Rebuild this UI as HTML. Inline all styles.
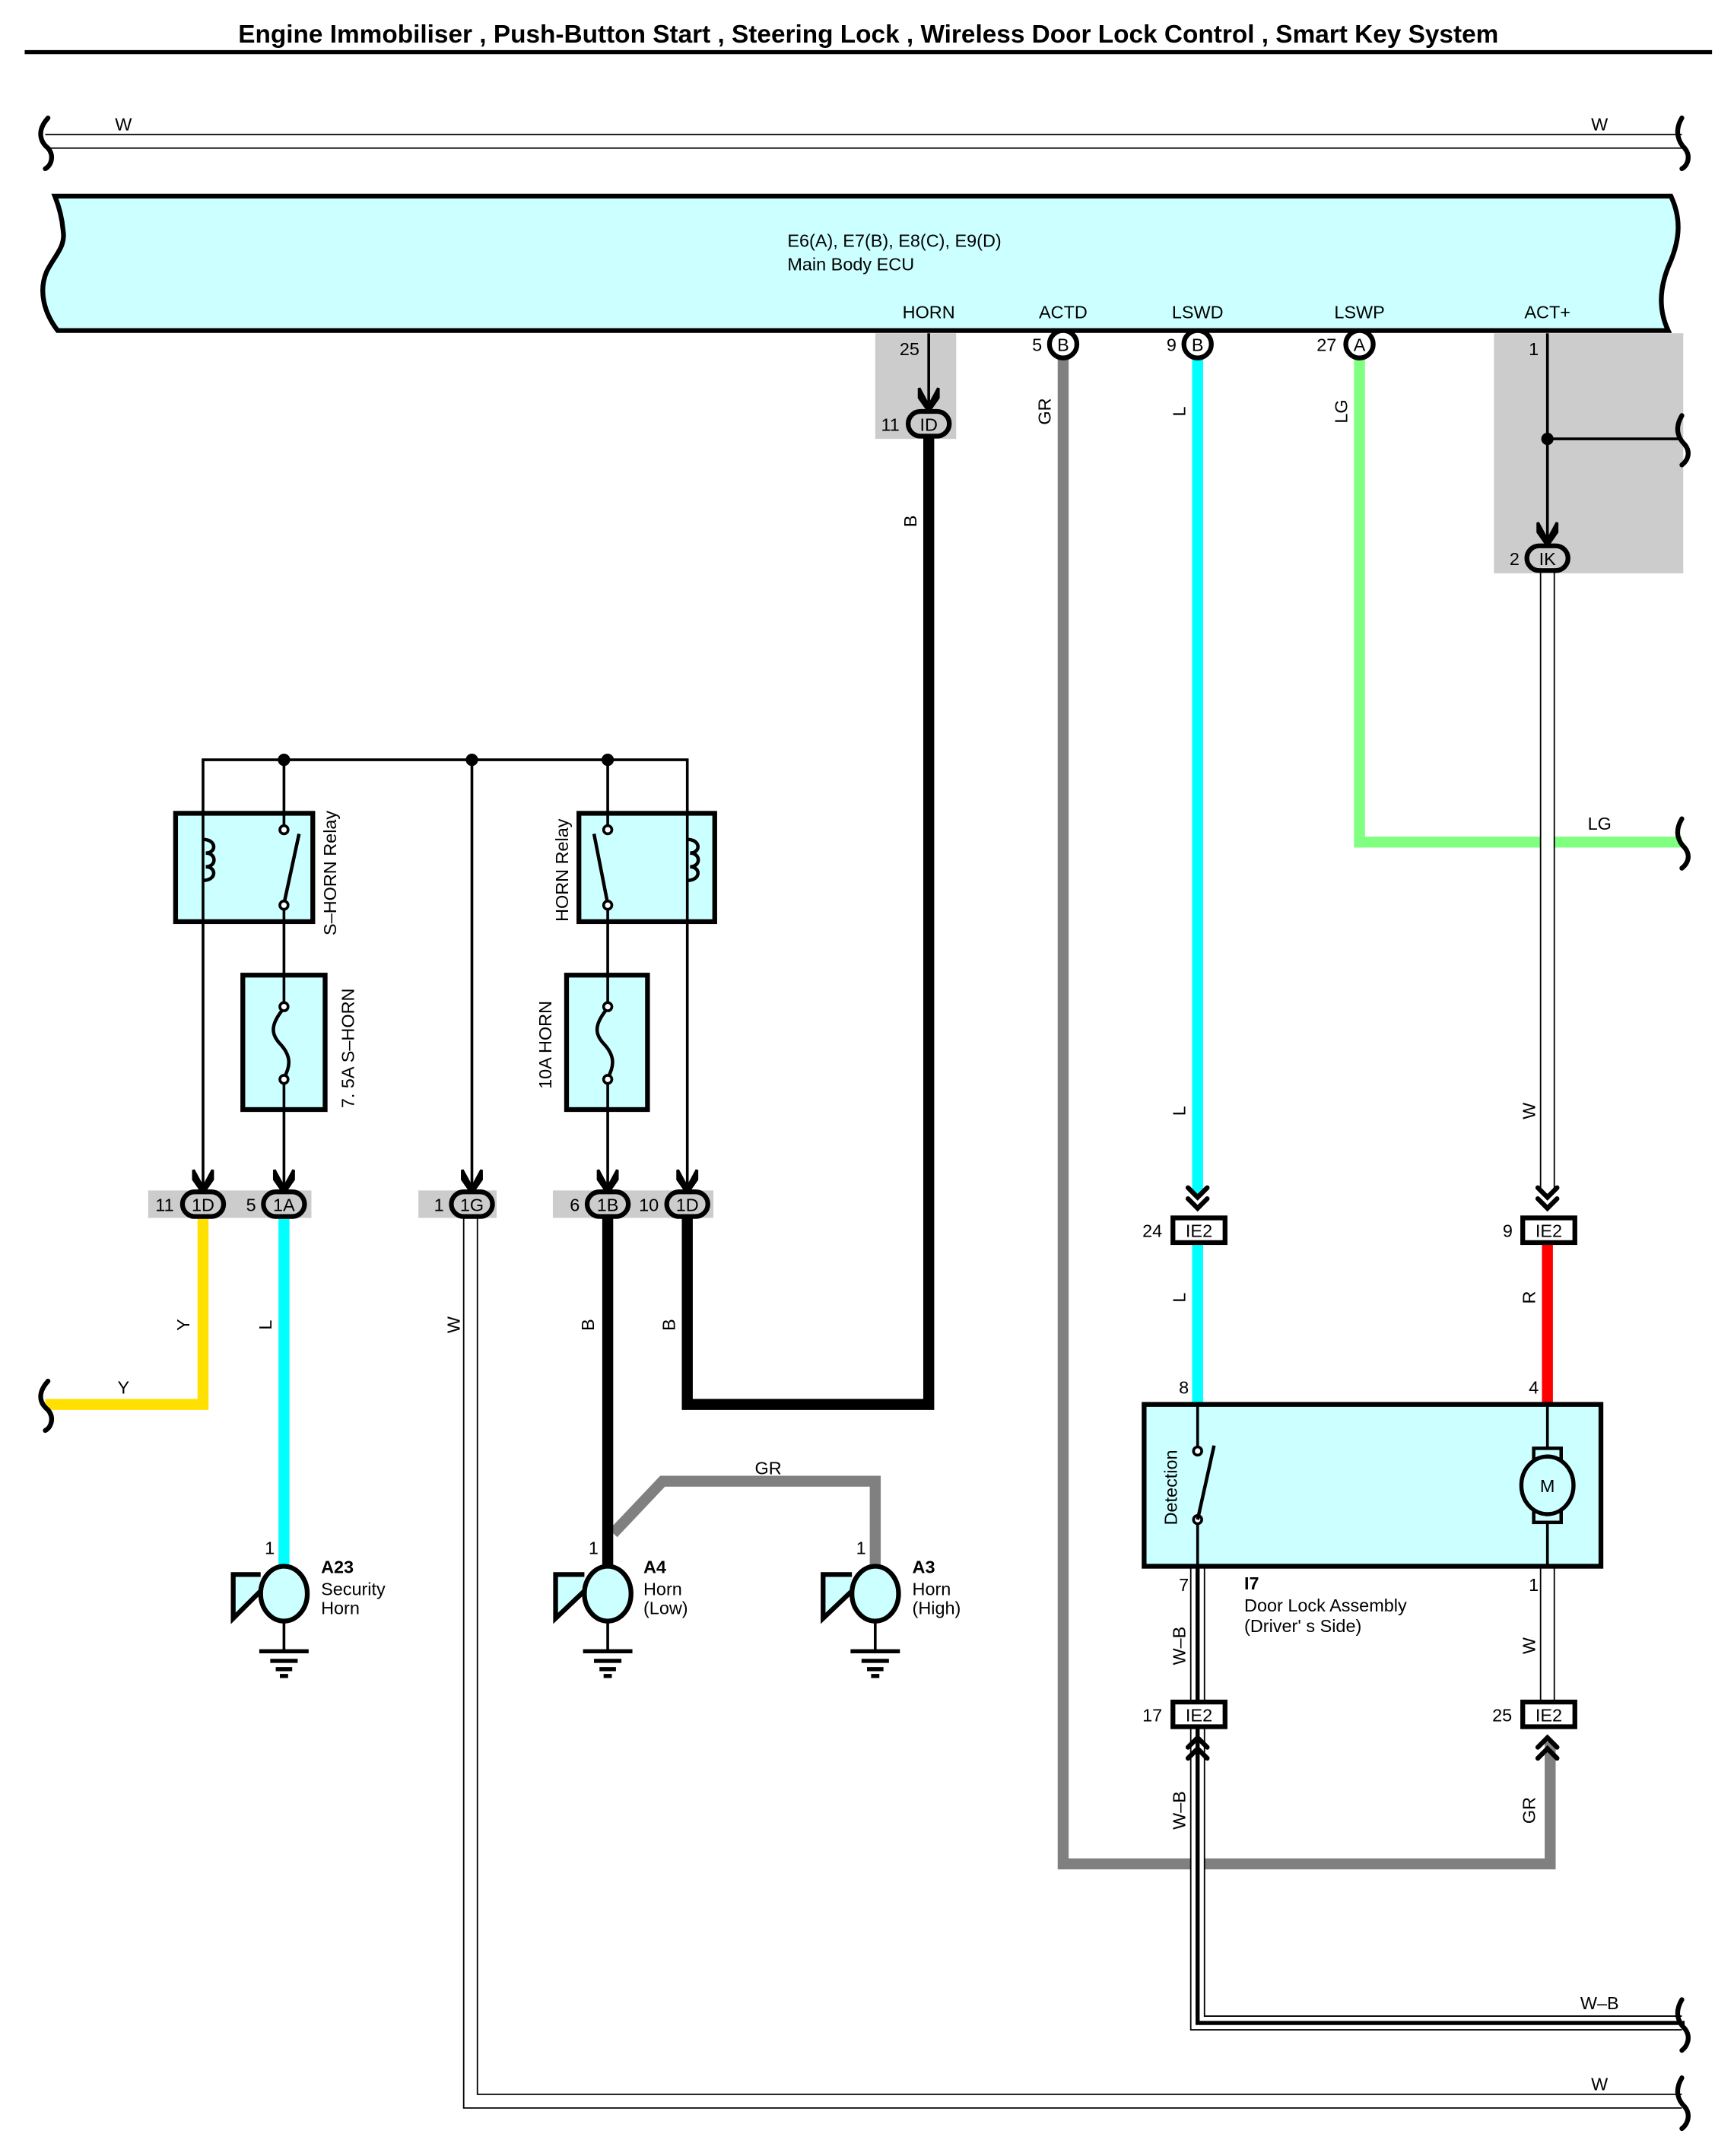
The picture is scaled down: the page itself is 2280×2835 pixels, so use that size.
<!DOCTYPE html>
<html><head><meta charset="utf-8"><style>
html,body{margin:0;padding:0;background:#fff;}
svg{display:block;}
text{font-family:"Liberation Sans",Arial,sans-serif;fill:#000;}
</style></head><body>
<svg width="2280" height="2835" viewBox="0 0 1264 1572" preserveAspectRatio="none" xmlns="http://www.w3.org/2000/svg">
<rect width="1264" height="1572" fill="#fff"/>
<text x="633" y="31" font-size="18.5" font-weight="bold" text-anchor="middle">Engine Immobiliser , Push-Button Start , Steering Lock , Wireless Door Lock Control , Smart Key System</text>
<line x1="18" y1="38" x2="1248" y2="38" stroke="#000" stroke-width="3"/>

<!-- top W wire -->
<line x1="33" y1="103" x2="1226" y2="103" stroke="#000" stroke-width="11"/>
<line x1="30" y1="103" x2="1229" y2="103" stroke="#fff" stroke-width="9"/>
<path d="M35 86 C26 96,30 104,35 108 C40 114,37 121,33 123" fill="none" stroke="#000" stroke-width="3.5" stroke-linecap="round"/>
<path d="M1226 86 C1220 96,1224 104,1228 108 C1233 114,1230 121,1226 123" fill="none" stroke="#000" stroke-width="3.5" stroke-linecap="round"/>
<text x="90" y="95" font-size="13" text-anchor="middle">W</text>
<text x="1166" y="95" font-size="13" text-anchor="middle">W</text>

<!-- ECU -->
<path d="M40 143 L1218 143 C1226 160,1224 175,1218 190 C1208 212,1210 228,1216 241 L42 241 C32 228,28 212,34 198 C40 186,48 180,46 168 C45 156,42 148,40 143 Z" fill="#ccffff" stroke="#000" stroke-width="3.5"/>
<text x="574" y="180" font-size="13">E6(A), E7(B), E8(C), E9(D)</text>
<text x="574" y="197" font-size="13">Main Body ECU</text>
<g font-size="13" text-anchor="middle">
<text x="677" y="232">HORN</text><text x="775" y="232">ACTD</text><text x="873" y="232">LSWD</text><text x="991" y="232">LSWP</text><text x="1128" y="232">ACT+</text>
</g>

<!-- gray areas -->
<rect x="638" y="243" width="59" height="77" fill="#cccccc"/>
<rect x="1089" y="243" width="138" height="175" fill="#cccccc"/>

<!-- colored wires -->
<polyline points="775,258 775,1359 1130,1359 1130,1270" fill="none" stroke="#808080" stroke-width="8"/>
<line x1="873" y1="258" x2="873" y2="872" stroke="#00ffff" stroke-width="8"/>
<line x1="873" y1="906" x2="873" y2="1024" stroke="#00ffff" stroke-width="8"/>
<polyline points="991,258 991,614 1226,614" fill="none" stroke="#80ff80" stroke-width="8"/>
<path d="M1226 597 C1220 607,1224 614,1228 618 C1233 624,1230 630,1226 633" fill="none" stroke="#000" stroke-width="3.5" stroke-linecap="round"/>
<text x="1166" y="605" font-size="13" text-anchor="middle">LG</text>
<line x1="1128" y1="906" x2="1128" y2="1024" stroke="#ff0000" stroke-width="8"/>
<polyline points="677,318 677,1024 501,1024 501,885" fill="none" stroke="#000" stroke-width="8"/>

<!-- W wire ACT+ -->
<line x1="1128" y1="416" x2="1128" y2="870" stroke="#000" stroke-width="11"/>
<line x1="1128" y1="414" x2="1128" y2="872" stroke="#fff" stroke-width="9"/>
<line x1="1128" y1="1142" x2="1128" y2="1240" stroke="#000" stroke-width="11"/>
<line x1="1128" y1="1142" x2="1128" y2="1240" stroke="#fff" stroke-width="9"/>

<!-- W-B wire -->
<polyline points="873,1142 873,1475 1226,1475" fill="none" stroke="#000" stroke-width="11"/>
<polyline points="873,1140 873,1475 1228,1475" fill="none" stroke="#fff" stroke-width="9"/>
<polyline points="873,1140 873,1475 1228,1475" fill="none" stroke="#000" stroke-width="3"/>
<path d="M1226 1458 C1220 1468,1224 1475,1228 1479 C1233 1485,1230 1492,1226 1495" fill="none" stroke="#000" stroke-width="3.5" stroke-linecap="round"/>
<text x="1166" y="1465" font-size="13" text-anchor="middle">W–B</text>

<!-- bottom W wire -->
<polyline points="343,886 343,1532 1226,1532" fill="none" stroke="#000" stroke-width="11"/>
<polyline points="343,884 343,1532 1228,1532" fill="none" stroke="#fff" stroke-width="9"/>
<path d="M1226 1515 C1220 1525,1224 1532,1228 1536 C1233 1542,1230 1549,1226 1552" fill="none" stroke="#000" stroke-width="3.5" stroke-linecap="round"/>
<text x="1166" y="1524" font-size="13" text-anchor="middle">W</text>

<!-- ECU pins -->
<g stroke="#000" stroke-width="3.5" fill="#fff">
<circle cx="775" cy="251" r="10"/><circle cx="873" cy="251" r="10"/><circle cx="991" cy="251" r="10"/>
</g>
<g font-size="13" text-anchor="middle">
<text x="775" y="256">B</text><text x="873" y="256">B</text><text x="991" y="256">A</text>
<text x="756" y="256">5</text><text x="854" y="256">9</text><text x="967" y="256">27</text>
<text x="663" y="259">25</text><text x="1118" y="259">1</text>
</g>

<!-- HORN 25 -> ID -->
<line x1="677" y1="243" x2="677" y2="296" stroke="#000" stroke-width="2"/>
<path d="M670 283 L677 296 L684 283 L684 290 L677 300 L670 290 Z" fill="#000" stroke="#000" stroke-width="2"/>
<rect x="662" y="300" width="30" height="18" rx="9" fill="none" stroke="#000" stroke-width="3.5"/>
<text x="677" y="314" font-size="13" text-anchor="middle">ID</text>
<text x="649" y="314" font-size="13" text-anchor="middle">11</text>

<!-- ACT+ -->
<line x1="1128" y1="243" x2="1128" y2="395" stroke="#000" stroke-width="2"/>
<line x1="1128" y1="320" x2="1226" y2="320" stroke="#000" stroke-width="2"/>
<circle cx="1128" cy="320" r="4.5" fill="#000"/>
<path d="M1226 303 C1220 313,1224 320,1228 324 C1233 330,1230 336,1226 339" fill="none" stroke="#000" stroke-width="3.5" stroke-linecap="round"/>
<path d="M1121 381 L1128 394 L1135 381 L1135 388 L1128 398 L1121 388 Z" fill="#000" stroke="#000" stroke-width="2"/>
<rect x="1113" y="398" width="30" height="18" rx="9" fill="none" stroke="#000" stroke-width="3.5"/>
<text x="1128" y="412" font-size="13" text-anchor="middle">IK</text>
<text x="1104" y="412" font-size="13" text-anchor="middle">2</text>

<!-- wire labels rotated -->
<g font-size="13" text-anchor="middle">
<text transform="translate(668,380) rotate(-90)">B</text>
<text transform="translate(766,300) rotate(-90)">GR</text>
<text transform="translate(864,300) rotate(-90)">L</text>
<text transform="translate(982,300) rotate(-90)">LG</text>
<text transform="translate(864,810) rotate(-90)">L</text>
<text transform="translate(1119,810) rotate(-90)">W</text>
<text transform="translate(864,946) rotate(-90)">L</text>
<text transform="translate(1119,946) rotate(-90)">R</text>
<text transform="translate(864,1200) rotate(-90)">W–B</text>
<text transform="translate(1119,1200) rotate(-90)">W</text>
<text transform="translate(864,1320) rotate(-90)">W–B</text>
<text transform="translate(1119,1320) rotate(-90)">GR</text>
<text transform="translate(138,966) rotate(-90)">Y</text>
<text transform="translate(198,966) rotate(-90)">L</text>
<text transform="translate(335,966) rotate(-90)">W</text>
<text transform="translate(433,966) rotate(-90)">B</text>
<text transform="translate(492,966) rotate(-90)">B</text>
</g>

<!-- IE2 connectors -->
<g fill="none" stroke="#000" stroke-width="3.5" stroke-linecap="round">
<path d="M866 866 L873 873 L880 866 M866 874 L873 881 L880 874"/>
<path d="M1121 866 L1128 873 L1135 866 M1121 874 L1128 881 L1135 874"/>
<path d="M866 1274 L873 1267 L880 1274 M866 1282 L873 1275 L880 1282"/>
<path d="M1121 1274 L1128 1267 L1135 1274 M1121 1282 L1128 1275 L1135 1282"/>
</g>
<g fill="#fff" stroke="#000" stroke-width="3.5">
<rect x="855" y="888" width="38" height="18"/><rect x="1110" y="888" width="38" height="18"/>
<rect x="855" y="1241" width="38" height="18"/><rect x="1110" y="1241" width="38" height="18"/>
</g>
<g font-size="13" text-anchor="middle">
<text x="874" y="902">IE2</text><text x="1129" y="902">IE2</text><text x="874" y="1255">IE2</text><text x="1129" y="1255">IE2</text>
<text x="840" y="902">24</text><text x="1099" y="902">9</text><text x="840" y="1255">17</text><text x="1095" y="1255">25</text>
<text x="863" y="1016">8</text><text x="1118" y="1016">4</text><text x="863" y="1160">7</text><text x="1118" y="1160">1</text>
</g>

<!-- Door lock assembly -->
<rect x="834" y="1024" width="333" height="118" fill="#ccffff" stroke="#000" stroke-width="3.5"/>
<line x1="873" y1="1024" x2="873" y2="1055" stroke="#000" stroke-width="2"/>
<line x1="873" y1="1110" x2="873" y2="1142" stroke="#000" stroke-width="2"/>
<circle cx="873" cy="1058" r="3" fill="#fff" stroke="#000" stroke-width="2"/>
<circle cx="873" cy="1108" r="3" fill="#fff" stroke="#000" stroke-width="2"/>
<line x1="873" y1="1108" x2="885" y2="1054" stroke="#000" stroke-width="2.5"/>
<text transform="translate(858,1112) rotate(-90)" font-size="13">Detection</text>
<line x1="1128" y1="1024" x2="1128" y2="1142" stroke="#000" stroke-width="2"/>
<rect x="1118" y="1056" width="20" height="54" fill="#ccffff" stroke="#000" stroke-width="2.5"/>
<ellipse cx="1128" cy="1083" rx="19" ry="21" fill="#ccffff" stroke="#000" stroke-width="3"/>
<text x="1128" y="1088" font-size="13" text-anchor="middle">M</text>
<text x="907" y="1159" font-size="13" font-weight="bold">I7</text>
<text x="907" y="1175" font-size="13">Door Lock Assembly</text>
<text x="907" y="1190" font-size="13">(Driver' s Side)</text>

<!-- Relay section -->
<g stroke="#000" stroke-width="2" fill="none">
<polyline points="148,866 148,554 501,554 501,866"/>
<line x1="207" y1="554" x2="207" y2="866"/>
<line x1="344" y1="554" x2="344" y2="866"/>
<line x1="443" y1="554" x2="443" y2="866"/>
</g>
<g fill="#000"><circle cx="207" cy="554" r="4.5"/><circle cx="344" cy="554" r="4.5"/><circle cx="443" cy="554" r="4.5"/></g>
<g fill="#ccffff" stroke="#000" stroke-width="3.5">
<rect x="128" y="593" width="100" height="79"/>
<rect x="422" y="593" width="99" height="79"/>
<rect x="177" y="711" width="60" height="98"/>
<rect x="413" y="711" width="59" height="98"/>
</g>
<g stroke="#000" stroke-width="2" fill="none">
<line x1="148" y1="593" x2="148" y2="672"/>
<line x1="207" y1="593" x2="207" y2="606"/><line x1="207" y1="660" x2="207" y2="672"/>
<line x1="443" y1="593" x2="443" y2="606"/><line x1="443" y1="660" x2="443" y2="672"/>
<line x1="501" y1="593" x2="501" y2="672"/>
<line x1="207" y1="711" x2="207" y2="733"/><line x1="207" y1="787" x2="207" y2="809"/>
<line x1="443" y1="711" x2="443" y2="733"/><line x1="443" y1="787" x2="443" y2="809"/>
</g>
<g stroke="#000" stroke-width="2.5" fill="#ccffff">
<path d="M148 612 C158 612,158 622,150 622 C158 622,158 632,150 632 C158 632,158 642,148 642" fill="none"/>
<path d="M501 612 C511 612,511 622,503 622 C511 622,511 632,503 632 C511 632,511 642,501 642" fill="none"/>
<line x1="207" y1="659" x2="218" y2="608"/>
<line x1="443" y1="659" x2="433" y2="608"/>
<circle cx="207" cy="605" r="3" fill="#fff" stroke-width="2"/><circle cx="207" cy="660" r="3" fill="#fff" stroke-width="2"/>
<circle cx="443" cy="605" r="3" fill="#fff" stroke-width="2"/><circle cx="443" cy="660" r="3" fill="#fff" stroke-width="2"/>
<path d="M207 735 C196 748,198 755,205 762 C212 770,212 777,207 786" fill="none"/>
<path d="M443 735 C432 748,434 755,441 762 C448 770,448 777,443 786" fill="none"/>
<circle cx="207" cy="734" r="3" fill="#fff" stroke-width="2"/><circle cx="207" cy="787" r="3" fill="#fff" stroke-width="2"/>
<circle cx="443" cy="734" r="3" fill="#fff" stroke-width="2"/><circle cx="443" cy="787" r="3" fill="#fff" stroke-width="2"/>
</g>
<g font-size="13">
<text transform="translate(245,682) rotate(-90)">S–HORN Relay</text>
<text transform="translate(414,672) rotate(-90)">HORN Relay</text>
<text transform="translate(258,808) rotate(-90)">7. 5A S–HORN</text>
<text transform="translate(402,794) rotate(-90)">10A HORN</text>
</g>

<!-- bottom connectors strip -->
<g fill="#cccccc">
<rect x="108" y="868" width="119" height="20"/>
<rect x="305" y="868" width="57" height="20"/>
<rect x="403" y="868" width="117" height="20"/>
</g>
<polyline points="148,886 148,1024 33,1024" fill="none" stroke="#ffe000" stroke-width="8"/>
<path d="M35 1007 C26 1017,30 1024,35 1028 C40 1034,37 1041,33 1043" fill="none" stroke="#000" stroke-width="3.5" stroke-linecap="round"/>
<text x="90" y="1016" font-size="13" text-anchor="middle">Y</text>
<line x1="207" y1="886" x2="207" y2="1145" stroke="#00ffff" stroke-width="8"/>
<polyline points="447,1118 483,1080 638,1080 638,1145" fill="none" stroke="#808080" stroke-width="8"/>
<line x1="443" y1="886" x2="443" y2="1145" stroke="#000" stroke-width="8"/>
<text x="560" y="1075" font-size="13" text-anchor="middle">GR</text>

<g fill="#000" stroke="#000" stroke-width="2">
<path d="M141 853 L148 866 L155 853 L155 860 L148 870 L141 860 Z"/>
<path d="M200 853 L207 866 L214 853 L214 860 L207 870 L200 860 Z"/>
<path d="M337 853 L344 866 L351 853 L351 860 L344 870 L337 860 Z"/>
<path d="M436 853 L443 866 L450 853 L450 860 L443 870 L436 860 Z"/>
<path d="M494 853 L501 866 L508 853 L508 860 L501 870 L494 860 Z"/>
</g>
<g fill="#cccccc" stroke="#000" stroke-width="3.5">
<rect x="133" y="869" width="30" height="18" rx="9"/>
<rect x="192" y="869" width="30" height="18" rx="9"/>
<rect x="329" y="869" width="30" height="18" rx="9"/>
<rect x="428" y="869" width="30" height="18" rx="9"/>
<rect x="486" y="869" width="30" height="18" rx="9"/>
</g>
<g font-size="13" text-anchor="middle">
<text x="148" y="883">1D</text><text x="207" y="883">1A</text><text x="344" y="883">1G</text><text x="443" y="883">1B</text><text x="501" y="883">1D</text>
<text x="120" y="883">11</text><text x="183" y="883">5</text><text x="320" y="883">1</text><text x="419" y="883">6</text><text x="473" y="883">10</text>
</g>

<!-- horns -->
<g stroke="#000" stroke-width="3.5" fill="#ccffff">
<path d="M190 1148 L170 1148 L170 1180 L190 1160"/>
<ellipse cx="207" cy="1162" rx="17" ry="20"/>
<path d="M426 1148 L405 1148 L405 1180 L426 1160"/>
<ellipse cx="443" cy="1162" rx="17" ry="20"/>
<path d="M621 1148 L600 1148 L600 1180 L621 1160"/>
<ellipse cx="638" cy="1162" rx="17" ry="20"/>
</g>
<g stroke="#000" fill="none">
<g stroke-width="2"><line x1="207" y1="1182" x2="207" y2="1203"/><line x1="443" y1="1182" x2="443" y2="1203"/><line x1="638" y1="1182" x2="638" y2="1203"/></g>
<g stroke-width="3">
<line x1="189" y1="1204" x2="225" y2="1204"/><line x1="197" y1="1211" x2="217" y2="1211"/><line x1="201" y1="1217" x2="213" y2="1217"/><line x1="204" y1="1222" x2="210" y2="1222"/>
<line x1="425" y1="1204" x2="461" y2="1204"/><line x1="433" y1="1211" x2="453" y2="1211"/><line x1="437" y1="1217" x2="449" y2="1217"/><line x1="440" y1="1222" x2="446" y2="1222"/>
<line x1="620" y1="1204" x2="656" y2="1204"/><line x1="628" y1="1211" x2="648" y2="1211"/><line x1="632" y1="1217" x2="644" y2="1217"/><line x1="635" y1="1222" x2="641" y2="1222"/>
</g></g>
<g font-size="13">
<text x="193" y="1133">1</text><text x="429" y="1133">1</text><text x="624" y="1133">1</text>
<text x="234" y="1147" font-weight="bold">A23</text><text x="234" y="1163">Security</text><text x="234" y="1177">Horn</text>
<text x="469" y="1147" font-weight="bold">A4</text><text x="469" y="1163">Horn</text><text x="469" y="1177">(Low)</text>
<text x="665" y="1147" font-weight="bold">A3</text><text x="665" y="1163">Horn</text><text x="665" y="1177">(High)</text>
</g>
</svg>
</body></html>
